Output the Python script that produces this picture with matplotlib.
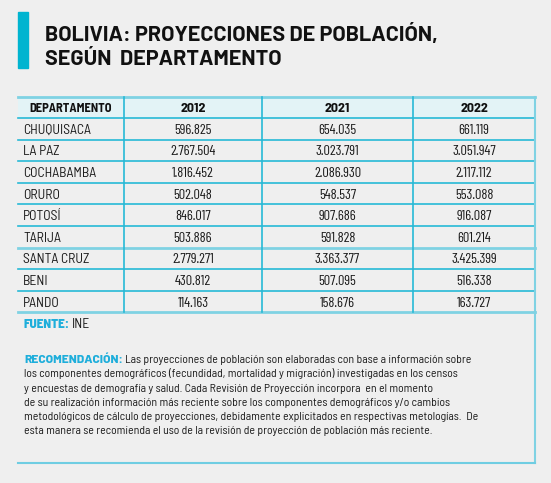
import matplotlib.pyplot as plt
from matplotlib.patches import Rectangle

# data
departamentos = ['CHUQUISACA', 'LA PAZ', 'COCHABAMBA', 'ORURO', 'POTOSÍ',
                 'TARIJA', 'SANTA CRUZ', 'BENI', 'PANDO']
anios = ['2012', '2021', '2022']
pob_2012 = [596825, 2767504, 1816452, 502048, 846017, 503886, 2779271, 430812, 114163]
pob_2021 = [654035, 3023791, 2086930, 548537, 907686, 591828, 3363377, 507095, 158676]
pob_2022 = [661119, 3051947, 2117112, 553088, 916087, 601214, 3425399, 516338, 163727]

titulo = ['BOLIVIA: PROYECCIONES DE POBLACIÓN,', 'SEGÚN  DEPARTAMENTO']
fuente = 'INE'
recomendacion = [
    'Las proyecciones de población son elaboradas con base a información sobre',
    'los componentes demográficos (fecundidad, mortalidad y migración) investigadas en los censos',
    'y encuestas de demografía y salud. Cada Revisión de Proyección incorpora  en el momento',
    'de su realización información más reciente sobre los componentes demográficos y/o cambios',
    'metodológicos de cálculo de proyecciones, debidamente explicitados en respectivas metologías.  De',
    'esta manera se recomienda el uso de la revisión de proyección de población más reciente.',
]

CYAN = '#27b9d6'
LIGHT = '#7fd2e3'
BG = '#efefef'
TXT = '#1a1a1a'
SEMI = ['Barlow Semi Condensed', 'DejaVu Sans']
COND = ['Barlow Condensed', 'DejaVu Sans']
WIDE = ['Barlow', 'DejaVu Sans']
plt.rcParams['font.family'] = SEMI


def fmt(n):
    return f'{n:,}'.replace(',', '.')


fig = plt.figure(figsize=(5.51, 4.83), dpi=100, facecolor=BG)
ax = fig.add_axes([0, 0, 1, 1])
ax.set_xlim(0, 551)
ax.set_ylim(483, 0)
ax.axis('off')

# title
ax.add_patch(Rectangle((18, 12), 10, 56, color='#00b4d0'))
ax.text(45, 41, titulo[0], fontsize=15.5, fontweight='bold', family=WIDE,
        va='baseline', color='#111111')
ax.text(45, 65, titulo[1], fontsize=15.5, fontweight='bold', family=WIDE,
        va='baseline', color='#111111')

# table
cols = [18, 124, 262, 413, 535]
top, hdr_h, row_h = 97, 21, 21.6
bottom = top + hdr_h + row_h * len(departamentos)
ax.add_patch(Rectangle((cols[0], top), cols[-1] - cols[0], hdr_h, color='#e3f3f6', lw=0))

ax.text((cols[0] + cols[1]) / 2, top + hdr_h / 2 + 4, 'DEPARTAMENTO', fontsize=9,
        fontweight='bold', ha='center', va='baseline', color='#111111')
for j, a in enumerate(anios):
    ax.text((cols[j + 1] + cols[j + 2]) / 2, top + hdr_h / 2 + 4.5, a, fontsize=10,
            fontweight='bold', ha='center', va='baseline', color='#111111')

valores = [pob_2012, pob_2021, pob_2022]
for i, d in enumerate(departamentos):
    yb = top + hdr_h + row_h * (i + 0.5) + 5
    ax.text(cols[0] + 5, yb, d, fontsize=9.8, va='baseline', color=TXT)
    for j in range(3):
        ax.text((cols[j + 1] + cols[j + 2]) / 2, yb, fmt(valores[j][i]), fontsize=10.3,
                family=COND, ha='center', va='baseline', color=TXT)

# grid lines
ax.plot([cols[0], cols[-1]], [top, top], color=LIGHT, lw=2)
for i in range(len(departamentos) + 1):
    y = top + hdr_h + row_h * i
    thick = i in (6, 9)
    ax.plot([cols[0], cols[-1]], [y, y], color=LIGHT if thick else CYAN, lw=2 if thick else 1.2)
for x in cols[1:-1]:
    ax.plot([x, x], [top, bottom], color=CYAN, lw=1.2)
ax.plot([cols[-1], cols[-1]], [top, 463], color=LIGHT, lw=1.5)
ax.plot([cols[0], cols[-1]], [463, 463], color='#6fcde2', lw=1.5)

# fuente
t = ax.text(24, 328, 'FUENTE:', fontsize=9.5, fontweight=800, va='baseline', color='#1eaedb')
fig.canvas.draw()
bb = t.get_window_extent().transformed(ax.transData.inverted())
ax.text(bb.x1 + 2, 328, fuente, fontsize=9.8, va='baseline', color=TXT)

# recomendacion
y0, dy = 363, 14.3
t = ax.text(24, y0, 'RECOMENDACIÓN:', fontsize=8.6, fontweight=800, family=WIDE,
            va='baseline', color='#1eaedb')
fig.canvas.draw()
bb = t.get_window_extent().transformed(ax.transData.inverted())
ax.text(bb.x1 + 2, y0, recomendacion[0], fontsize=8.45, va='baseline', color=TXT)
for k, line in enumerate(recomendacion[1:], start=1):
    ax.text(24, y0 + dy * k, line, fontsize=8.45, va='baseline', color=TXT)

fig.savefig('out.png', dpi=100, facecolor=BG)
